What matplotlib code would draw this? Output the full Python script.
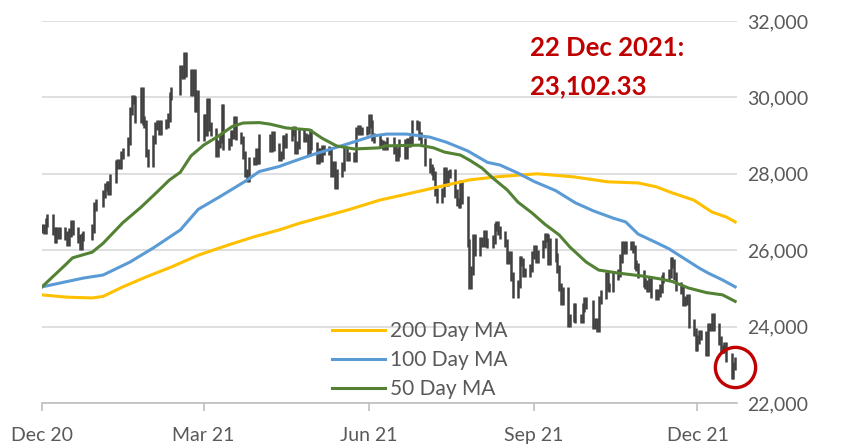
import matplotlib
matplotlib.use("Agg")
import matplotlib.pyplot as plt
import matplotlib.dates as mdates
import numpy as np
import pandas as pd

plt.rcParams['font.family'] = ['Lato', 'DejaVu Sans']

# ---------------- data ----------------
holidays = ['2020-12-25', '2020-12-28', '2021-01-01', '2021-02-12', '2021-02-15',
            '2021-04-02', '2021-04-05', '2021-04-06', '2021-05-19', '2021-06-14',
            '2021-07-01', '2021-09-22', '2021-10-01', '2021-10-14']

close_dec20 = [26567, 26533, 26729, 26835, 26507, 26304, 26502, 26410, 26506, 26389, 26207,
               26460, 26678, 26498, 26306, 26119, 26343, 26387, 26568, 27147, 27231]
close_jan21 = [27473, 27649, 27693, 27549, 27878, 28246, 28277, 28236, 28497, 28574, 28863,
               29642, 29963, 29928, 29448, 30159, 29391, 29298, 28551, 28284]
close_feb21 = [28893, 29249, 29307, 29114, 29289, 29320, 29476, 30039, 30174, 30746, 30596,
               31085, 30645, 30157, 30632, 29718, 30074, 28980]
close_mar21 = [29453, 29095, 29880, 29237, 29099, 28541, 28773, 28907, 29718, 28740, 28834,
               29028, 29034, 29406, 28991, 28885, 28497, 28019, 27900, 28336, 28338, 28578, 28378]
close_apr21 = [28939, 28674, 29009, 28699, 28454, 28497, 28901, 28793, 28970, 29107, 29135,
               28622, 28755, 29079, 28952, 28942, 28574, 29072, 28725]
close_may21 = [28357, 28557, 28418, 28637, 28611, 28595, 28014, 28231, 27719, 28027, 28194,
               28594, 28450, 28458, 28412, 29125, 29166, 29113, 29124, 29152]
close_jun21 = [29468, 29297, 28966, 28918, 28788, 28781, 28742, 28739, 28842, 28638, 28436,
               28559, 28801, 28490, 28817, 28817, 28882, 29288, 29268, 28995, 28828]
close_jul21 = [28310, 28143, 28073, 27960, 27528, 27344, 27515, 28072, 27787, 27996, 28004,
               27489, 27259, 27224, 27723, 27321, 26192, 25086, 25473, 26316, 25961]
close_aug21 = [26235, 26195, 26427, 26205, 26180, 26283, 26605, 26661, 26518, 26392, 26182,
               25745, 25867, 25316, 24850, 25110, 25728, 25694, 25416, 25408, 25539, 25879]
close_sep21 = [26028, 25762, 25902, 26163, 26353, 26320, 25716, 26205, 25813, 25503, 25033,
               24668, 24920, 24100, 24221, 24511, 24193, 24209, 24500, 24664, 24576]
close_oct21 = [24036, 24104, 23967, 24702, 24838, 25326, 25031, 25003, 25331, 25410, 25787,
               26136, 26018, 26127, 26132, 26039, 25628, 25556, 25377]
close_nov21 = [25154, 25100, 25025, 25225, 24871, 24813, 24885, 24996, 25248, 25328, 25390,
               25714, 25650, 25320, 25050, 24952, 24652, 24686, 24740, 24081, 23852, 23475]
close_dec21 = [23658, 23789, 23767, 23349, 23983, 23996, 24254, 23996, 23635, 23420, 23421,
               23475, 23193, 22744, 22971, 23102]

ma200_dates = ['2020-12-01', '2020-12-15', '2020-12-29', '2021-01-04', '2021-01-15', '2021-01-28',
               '2021-02-11', '2021-02-26', '2021-03-15', '2021-03-29', '2021-04-12', '2021-04-23',
               '2021-05-20', '2021-06-07', '2021-06-25', '2021-07-09', '2021-07-27', '2021-08-11',
               '2021-08-25', '2021-09-03', '2021-09-23', '2021-10-12', '2021-10-29', '2021-11-08',
               '2021-11-17', '2021-11-29', '2021-12-09', '2021-12-17', '2021-12-22']
ma200_vals = [24830, 24770, 24750, 24790, 25040, 25300, 25560, 25870, 26140, 26350, 26530, 26700,
              27050, 27310, 27500, 27650, 27840, 27920, 27970, 28000, 27920, 27790, 27760, 27660,
              27500, 27310, 27000, 26870, 26740]

ma100_dates = ['2020-12-01', '2020-12-24', '2021-01-04', '2021-01-19', '2021-02-01', '2021-02-16',
               '2021-02-26', '2021-03-10', '2021-03-24', '2021-04-01', '2021-04-12', '2021-04-16',
               '2021-04-30', '2021-05-20', '2021-06-03', '2021-06-11', '2021-06-22', '2021-07-05',
               '2021-07-14', '2021-07-26', '2021-08-06', '2021-08-13', '2021-08-23', '2021-09-01',
               '2021-09-13', '2021-09-24', '2021-10-04', '2021-10-15', '2021-10-22', '2021-10-29',
               '2021-11-08', '2021-11-15', '2021-11-23', '2021-12-02', '2021-12-07', '2021-12-15',
               '2021-12-22']
ma100_vals = [25040, 25270, 25350, 25690, 26060, 26530, 27070, 27400, 27800, 28060, 28190, 28260,
              28490, 28780, 28990, 29040, 29040, 28960, 28830, 28600, 28300, 28230, 28020, 27800,
              27560, 27240, 27030, 26840, 26740, 26420, 26200, 26040, 25800, 25530, 25400, 25220,
              25040]

ma50_dates = ['2020-12-01', '2020-12-15', '2020-12-18', '2020-12-29', '2021-01-04', '2021-01-15',
              '2021-01-25', '2021-02-03', '2021-02-10', '2021-02-16', '2021-02-22', '2021-03-01',
              '2021-03-09', '2021-03-17', '2021-03-23', '2021-04-01', '2021-04-07', '2021-04-16',
              '2021-04-29', '2021-05-06', '2021-05-14', '2021-05-24', '2021-06-07', '2021-06-10',
              '2021-06-29', '2021-07-07', '2021-07-13', '2021-07-22', '2021-07-27', '2021-08-03',
              '2021-08-09', '2021-08-17', '2021-08-23', '2021-08-31', '2021-09-07', '2021-09-15',
              '2021-09-21', '2021-09-30', '2021-10-07', '2021-10-18', '2021-11-01', '2021-11-10',
              '2021-11-17', '2021-11-26', '2021-12-06', '2021-12-15', '2021-12-22']
ma50_vals = [25040, 25660, 25800, 25950, 26180, 26720, 27120, 27520, 27840, 28040, 28470, 28750,
             28980, 29240, 29330, 29340, 29300, 29200, 29150, 28930, 28730, 28650, 28680, 28730,
             28750, 28680, 28570, 28490, 28360, 28150, 27890, 27580, 27260, 26970, 26680, 26400,
             26080, 25690, 25480, 25400, 25320, 25250, 25180, 25010, 24890, 24830, 24660]

series_labels = ['200 Day MA', '100 Day MA', '50 Day MA']
series_colors = ['#FFC000', '#5B9BD5', '#548235']
tick_dates = ['2020-12-01', '2021-03-01', '2021-06-01', '2021-09-01', '2021-12-01']
y_ticks = [22000, 24000, 26000, 28000, 30000, 32000]
note_lines = ['22 Dec 2021:', '23,102.33']

# ---------------- build ----------------
closes = np.array(close_dec20 + close_jan21 + close_feb21 + close_mar21 + close_apr21 +
                  close_may21 + close_jun21 + close_jul21 + close_aug21 + close_sep21 +
                  close_oct21 + close_nov21 + close_dec21, dtype=float)
days = pd.bdate_range('2020-12-01', '2021-12-22')
days = days[~days.isin(pd.to_datetime(holidays))]
assert len(days) == len(closes)

prev = np.r_[closes[0], closes[:-1]]
pad = 110
lows = np.minimum(prev, closes) - pad
highs = np.maximum(prev, closes) + pad

W, H = 848, 446
fig = plt.figure(figsize=(W / 100, H / 100), dpi=100)
ax = fig.add_axes([42 / W, 43 / H, (737 - 42) / W, (403 - 21) / H])

ax.vlines(days, lows, highs, color='#404040', lw=1.8, zorder=2)

ma_sets = [(ma200_dates, ma200_vals), (ma100_dates, ma100_vals), (ma50_dates, ma50_vals)]
handles = []
for (d, v), lab, col in zip(ma_sets, series_labels, series_colors):
    h, = ax.plot(pd.to_datetime(d), v, color=col, lw=2.2, label=lab, zorder=3,
                 solid_joinstyle='round')
    handles.append(h)

ax.set_xlim(pd.Timestamp('2020-12-01'), pd.Timestamp('2021-12-23'))
ax.set_ylim(22000, 32000)
ax.set_yticks(y_ticks)
ax.yaxis.tick_right()
ax.yaxis.set_major_formatter(matplotlib.ticker.FuncFormatter(lambda v, p: f'{int(v):,}'))
ax.tick_params(axis='y', length=0, pad=7, labelsize=14, labelcolor='#595959')
ax.grid(axis='y', color='#D9D9D9', lw=1.2, zorder=0)
ax.set_axisbelow(True)

ax.set_xticks(pd.to_datetime(tick_dates))
ax.xaxis.set_major_formatter(mdates.DateFormatter('%b %y'))
ax.tick_params(axis='x', length=6, width=1.2, color='#BFBFBF', pad=11,
               labelsize=14, labelcolor='#595959')

for s in ['top', 'left', 'right']:
    ax.spines[s].set_visible(False)
ax.spines['bottom'].set_color('#BFBFBF')
ax.spines['bottom'].set_linewidth(1.2)

leg = fig.legend(handles=handles, loc='upper left', bbox_to_anchor=(332 / W, 1 - 321 / H),
                 frameon=False, fontsize=15, handlelength=2.55, handletextpad=0.25,
                 labelspacing=0.44, borderpad=0, borderaxespad=0)
for t in leg.get_texts():
    t.set_color('#595959')

fig.text(530 / W, 1 - 48 / H, note_lines[0], color='#C00000', fontsize=18.5,
         fontweight='bold', va='center', ha='left')
fig.text(530 / W, 1 - 86 / H, note_lines[1], color='#C00000', fontsize=18.5,
         fontweight='bold', va='center', ha='left')

ax.plot([days[-1]], [np.mean(closes[-3:])], marker='o', ms=29, mfc='none',
        mec='#C00000', mew=2.4, zorder=4, clip_on=False)

fig.savefig('out.png', dpi=100)
